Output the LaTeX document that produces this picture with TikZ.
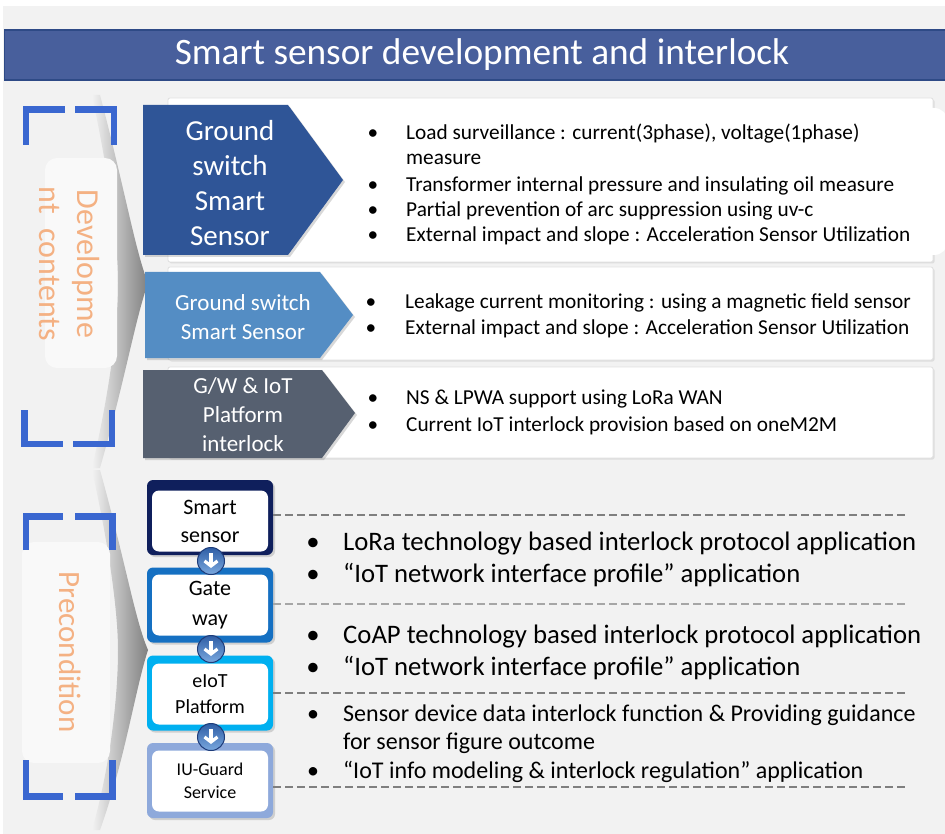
\documentclass[tikz,border=0pt]{standalone}
\usepackage{fontspec}
\setmainfont{Carlito}
\usetikzlibrary{shadows,arrows.meta}
\definecolor{bgc}{HTML}{F2F2F2}
\definecolor{titlec}{HTML}{485F9C}
\definecolor{titleb}{HTML}{2E4A86}
\definecolor{pA}{HTML}{2F5597}
\definecolor{pB}{HTML}{548DC4}
\definecolor{pC}{HTML}{566070}
\definecolor{brkc}{HTML}{3A67D0}
\definecolor{orangec}{HTML}{F4B183}
\definecolor{sA}{HTML}{0F1F5C}
\definecolor{sB}{HTML}{1570C2}
\definecolor{sC}{HTML}{00B0F0}
\definecolor{sD}{HTML}{8EA9DB}
\definecolor{dashc}{HTML}{7F7F7F}
\definecolor{dashl}{HTML}{A6A6A6}
\definecolor{ballt}{HTML}{2F5EA6}
\definecolor{ballb}{HTML}{7AA8DE}
\definecolor{balld}{HTML}{1E3C7A}
\begin{document}
\begin{tikzpicture}[x=1pt,y=-1pt,
  wbox/.style={fill=white, draw=black!12, line width=0.8, rounded corners=2,
    drop shadow={opacity=0.18, shadow xshift=1.5pt, shadow yshift=-1.5pt}},
  penta/.style={drop shadow={opacity=0.3, shadow xshift=2pt, shadow yshift=-2pt}},
  ptxt/.style={text=white, align=center, inner sep=0},
  btxt/.style={anchor=west, inner sep=0, text height=.95em, text depth=.03em},
  bdot/.style={anchor=center, inner sep=0, text height=.95em, text depth=.03em},
  brk/.style={draw=brkc, line width=6.5},
  outerbox/.style={minimum width=126, minimum height=75, rounded corners=6, inner sep=0,
    drop shadow={opacity=0.3, shadow xshift=2pt, shadow yshift=-2pt}},
  innerbox/.style={fill=white, minimum width=116, minimum height=61, rounded corners=7, inner sep=0, align=center},
  dashline/.style={line width=2, dash pattern=on 8pt off 4pt},
  rottxt/.style={rotate=-90, text=orangec, align=center, inner sep=0},
  arrball/.style={circle, minimum size=27, inner sep=0, top color=ballt, bottom color=ballb, draw=balld, line width=1},
  swoosh/.style={left color=bgc, right color=black!50, draw=none},
]
\useasboundingbox (0,0) rectangle (945,834);
% background
\fill[white] (0,0) rectangle (945,834);
\fill[bgc] (3,6) rectangle (945,834);

% title
\node[fill=titlec, draw=titleb, line width=1.5, minimum width=943, minimum height=50, inner sep=0] (title) at (476,55) {};
\node[text=white, font=\fontsize{37.3}{40}\selectfont, inner sep=0] (titletxt) at (482,55) {Smart sensor development and interlock};

% ---------- top section ----------
% swoosh
\path[swoosh] (100,95) .. controls (125,190) and (135,250) .. (148,283)
  .. controls (135,320) and (125,380) .. (100,468) -- (92,468)
  .. controls (112,380) and (118,320) .. (118,283)
  .. controls (118,250) and (112,190) .. (92,95) -- cycle;

% white content boxes
\draw[wbox] (168,98) rectangle (933,262);
\fill[white, rounded corners=14] (700,108) rectangle (948,255);
\draw[wbox] (168,267) rectangle (933,360);
\draw[wbox] (168,367) rectangle (933,458);

% pentagons
\fill[pA, penta] (143,105) -- (288,105) -- (343,180) -- (288,255) -- (143,255) -- cycle;
\fill[pB, penta] (145,272) -- (320,272) -- (353,315) -- (320,358) -- (145,358) -- cycle;
\fill[pC, penta] (143,370) -- (322,370) -- (355,413) -- (322,458) -- (143,458) -- cycle;
\node[ptxt, font=\fontsize{29}{35}\selectfont] (pta) at (230,183) {Ground\\switch\\Smart\\Sensor};
\node[ptxt, font=\fontsize{23}{29}\selectfont] (ptb) at (243,317) {Ground switch\\Smart Sensor};
\node[ptxt, font=\fontsize{23}{29}\selectfont] (ptc) at (243,415) {G/W \& IoT\\Platform\\interlock};

% left panel
\fill[bgc!50!white, rounded corners=12] (45,158) rectangle (117,368);
\node[rottxt, font=\fontsize{32}{38}\selectfont] (devtxt) at (69,264) {Developme\\nt\ \ contents};
% brackets
\draw[brk] (26,145) -- (26,109.5) -- (65,109.5);
\draw[brk] (75,109.5) -- (114,109.5) -- (114,145);
\draw[brk] (24.5,410) -- (24.5,444) -- (63,444);
\draw[brk] (73,444) -- (112,444) -- (112,410);

% top bullets
\begin{scope}[yshift=-3pt, every node/.append style={font=\fontsize{21.3}{25}\selectfont}]
\node[bdot] (d1) at (373,132) {•}; \node[btxt] (t1) at (406,132) {Load surveillance : current(3phase), voltage(1phase)};
\node[btxt] (t1b) at (406,157) {measure};
\node[bdot] (d2) at (373,184) {•}; \node[btxt] (t2) at (406,184) {Transformer internal pressure and insulating oil measure};
\node[bdot] (d3) at (373,209) {•}; \node[btxt] (t3) at (406,209) {Partial prevention of arc suppression using uv-c};
\node[bdot] (d4) at (373,234) {•}; \node[btxt] (t4) at (406,234) {External impact and slope : Acceleration Sensor Utilization};
\node[bdot] (d5) at (371,301) {•}; \node[btxt] (t5) at (405,301) {Leakage current monitoring : using a magnetic field sensor};
\node[bdot] (d6) at (371,327) {•}; \node[btxt] (t6) at (405,327) {External impact and slope : Acceleration Sensor Utilization};
\node[bdot] (d7) at (373,397) {•}; \node[btxt] (t7) at (406,397) {NS \& LPWA support using LoRa WAN};
\node[bdot] (d8) at (373,424) {•}; \node[btxt] (t8) at (406,424) {Current IoT interlock provision based on oneM2M};
\end{scope}

% ---------- bottom section ----------
\path[swoosh] (100,470) .. controls (125,560) and (135,620) .. (148,650)
  .. controls (135,690) and (125,760) .. (100,830) -- (92,830)
  .. controls (112,760) and (118,690) .. (118,650)
  .. controls (118,620) and (112,560) .. (92,470) -- cycle;
\fill[bgc!50!white, rounded corners=12] (22,542) rectangle (110,763);
\node[rottxt, font=\fontsize{31}{36}\selectfont] (pretxt) at (70,652) {Precondition};
\draw[brk] (26,550) -- (26,516.5) -- (63,516.5);
\draw[brk] (75,516.5) -- (112.5,516.5) -- (112.5,550);
\draw[brk] (26,760) -- (26,796.5) -- (63,796.5);
\draw[brk] (75,796.5) -- (112.5,796.5) -- (112.5,760);

% stack
\node[outerbox, fill=sA] (ssO) at (210,517.5) {};
\node[innerbox, font=\fontsize{22}{28}\selectfont] (ss) at (210,521) {Smart\\sensor};
\node[outerbox, fill=sB] (gwO) at (210,605) {};
\node[innerbox, font=\fontsize{22}{30}\selectfont] (gw) at (210,605) {Gate\\way};
\node[outerbox, fill=sC] (eiO) at (210,693) {};
\node[innerbox, font=\fontsize{20}{26}\selectfont] (ei) at (210,694) {eIoT\\Platform};
\node[outerbox, fill=sD] (iuO) at (210,780.5) {};
\node[innerbox, font=\fontsize{18}{23}\selectfont] (iu) at (210,781) {IU-Guard\\Service};

% arrow balls
\foreach \n/\yy in {a1/561, a2/649, a3/737} {
  \node[arrball] (\n) at (211,\yy) {};
  \draw[white, line width=3.2, -{Straight Barb[length=5pt,width=13pt]}] (\n.center) ++(0,-8) -- ++(0,15);
}

% dashed connectors
\coordinate (e1) at (905,515);
\coordinate (e2) at (905,604);
\coordinate (e3) at (905,693);
\coordinate (e4) at (905,787);
\draw[dashline, dashc] (ssO.east |- e1) -- (e1);
\draw[dashline, dashl] (gwO.east |- e2) -- (e2);
\draw[dashline, dashc] (eiO.east |- e3) -- (e3);
\draw[dashline, dashc] (iuO.east |- e4) -- (e4);

% bottom bullets
\begin{scope}[yshift=-5pt, every node/.append style={font=\fontsize{26.7}{32}\selectfont}]
\node[bdot] (b1) at (313,541) {•}; \node[btxt] (u1) at (343,541) {LoRa technology based interlock protocol application};
\node[bdot] (b2) at (313,573) {•}; \node[btxt] (u2) at (343,573) {“IoT network interface profile” application};
\node[bdot] (b3) at (313,634) {•}; \node[btxt] (u3) at (343,634) {CoAP technology based interlock protocol application};
\node[bdot] (b4) at (313,666) {•}; \node[btxt] (u4) at (343,666) {“IoT network interface profile” application};
\end{scope}
\begin{scope}[yshift=-4pt, every node/.append style={font=\fontsize{24}{28}\selectfont}]
\node[bdot] (b5) at (313,713) {•}; \node[btxt] (u5) at (343,713) {Sensor device data interlock function \& Providing guidance};
\node[btxt] (u5b) at (343,741) {for sensor figure outcome};
\node[bdot] (b6) at (313,770) {•}; \node[btxt] (u6) at (343,770) {“IoT info modeling \& interlock regulation” application};
\end{scope}
\end{tikzpicture}
\end{document}
